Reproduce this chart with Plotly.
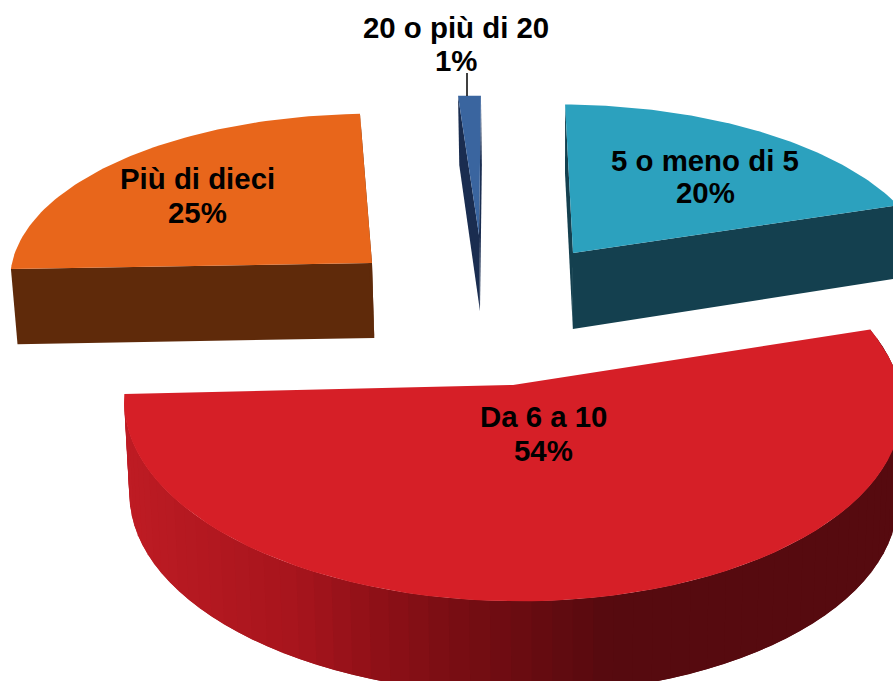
"""
plot.py - exploded 3D style pie, built from filled scatter polygons.
Plotly has no 3D pie, so slice outlines are computed from the values.
"""

import math

import plotly.graph_objects as go


CATEGORIES = ["5 o meno di 5", "Da 6 a 10", "Più di dieci", "20 o più di 20"]
PERCENTS = [20, 54, 25, 1]

# Drawing constants
WIDTH, HEIGHT = 893, 681
FONT = "Liberation Sans, Arial, sans-serif"
PERSPECTIVE = 0.0987
VANISH_X = 560
CONTRACT = 0.012
STEPS = 70

# apex px, horizontal radius, vertical radius, side depth, small rotation, shear,
# and how much the side depth follows the perspective
GEOMETRY = [
    dict(ax=573, ay=253, rx=356, ry=163, depth=76, rot=-1.4, shear=0.0145, dp=1),
    dict(ax=513, ay=385, rx=387, ry=195, depth=93, rot=0.0, shear=0.0085, dp=0),
    dict(ax=372, ay=263, rx=360, ry=164, depth=75, rot=1.5, shear=0.0, dp=1),
    dict(ax=479, ay=235, rx=400, ry=153, depth=76, rot=0.3, shear=0.0085, dp=1),
]
TOP_COLORS = ["#2CA1BE", "#D61F27", "#E8661B", "#3A659F"]
SIDE_COLORS = ["#14404F", None, "#5F2A0A", "#1A2D50"]
# red rim shading, by screen x
RIM_SHADES = [(130, (190, 28, 36)), (300, (168, 21, 29)),
              (450, (125, 14, 20)), (620, (86, 10, 15))]

LABEL_POS = [(705, 160, 192), (543, 416, 450), (197, 178, 212), (456, 27, 60)]


def top_point(g, deg):
    t = math.radians(deg + g["rot"])
    u, v = math.sin(t), -math.cos(t)
    w = 1 - PERSPECTIVE * v
    x = g["ax"] + g["rx"] * u / w
    y = g["ay"] + g["ry"] * v / w + g["shear"] * (x - g["ax"])
    return x, y, w


def bottom_point(g, deg):
    x, y, w = top_point(g, deg)
    return x + (VANISH_X - x) * CONTRACT, y + g["depth"] / w ** g["dp"]


def apex_bottom(g):
    return g["ax"] + (VANISH_X - g["ax"]) * CONTRACT, g["ay"] + g["depth"]


def polygon(points, color):
    xs = [p[0] for p in points] + [points[0][0]]
    ys = [p[1] for p in points] + [points[0][1]]
    return go.Scatter(
        x=xs, y=ys, mode="lines", fill="toself", fillcolor=color,
        line=dict(color=color, width=0), hoverinfo="skip", showlegend=False,
    )


def rim_color(x):
    if x <= RIM_SHADES[0][0]:
        return "rgb(%d,%d,%d)" % RIM_SHADES[0][1]
    for (x0, c0), (x1, c1) in zip(RIM_SHADES, RIM_SHADES[1:]):
        if x <= x1:
            f = (x - x0) / (x1 - x0)
            return "rgb(%d,%d,%d)" % tuple(a + (b - a) * f for a, b in zip(c0, c1))
    return "rgb(%d,%d,%d)" % RIM_SHADES[-1][1]


fig = go.Figure()

start = 0.0
for i, pct in enumerate(PERCENTS):
    g = GEOMETRY[i]
    end = start + pct * 3.6
    angles = [start + (end - start) * n / STEPS for n in range(STEPS + 1)]
    apex, apex_b = (g["ax"], g["ay"]), apex_bottom(g)

    if SIDE_COLORS[i]:
        # the two cut faces of the wedge
        for a in (start, end):
            p = top_point(g, a)[:2]
            fig.add_trace(polygon([apex, p, bottom_point(g, a), apex_b], SIDE_COLORS[i]))
    else:
        # curved rim, painted from the right so each strip overlaps the next
        for n in range(STEPS):
            a0, a1 = angles[n], angles[min(n + 2, STEPS)]
            p0, p1 = top_point(g, a0)[:2], top_point(g, a1)[:2]
            fig.add_trace(polygon([p0, p1, bottom_point(g, a1), bottom_point(g, a0)],
                                  rim_color(p0[0])))

    outline = [top_point(g, a)[:2] for a in angles]
    fig.add_trace(polygon([apex] + outline, TOP_COLORS[i]))
    start = end

# leader line of the smallest slice
fig.add_trace(go.Scatter(x=[467, 467], y=[73, 96], mode="lines",
                         line=dict(color="black", width=1.5),
                         hoverinfo="skip", showlegend=False))

for cat, pct, (x, y1, y2) in zip(CATEGORIES, PERCENTS, LABEL_POS):
    for text, y in ((cat, y1), (f"{pct}%", y2)):
        fig.add_annotation(x=x, y=y, xref="x", yref="y", text=f"<b>{text}</b>",
                           showarrow=False, font=dict(family=FONT, size=29.4, color="black"))

fig.update_layout(
    width=WIDTH, height=HEIGHT,
    margin=dict(t=0, b=0, l=0, r=0),
    paper_bgcolor="white", plot_bgcolor="white",
    showlegend=False,
)
fig.update_xaxes(range=[0, WIDTH], visible=False)
fig.update_yaxes(range=[HEIGHT, 0], visible=False)

# drop the browser's default page margin
fig.write_html("out.html", config={"displayModeBar": False},
               post_script="document.body.style.margin='0';")
